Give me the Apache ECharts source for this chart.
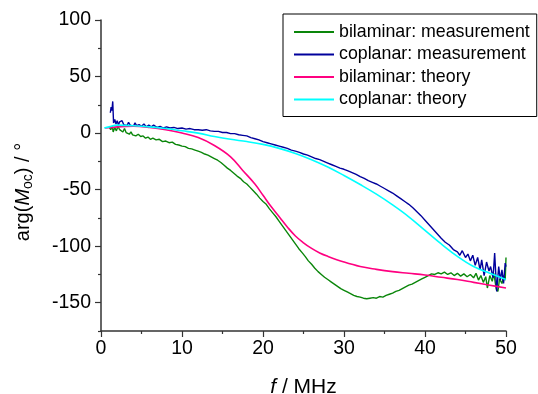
<!DOCTYPE html>
<html><head><meta charset="utf-8">
<script src="https://cdn.jsdelivr.net/npm/echarts@6/dist/echarts.min.js"></script>
<style>html,body{margin:0;padding:0;background:#fff}#c{width:538px;height:394px}</style>
</head><body><div id="c"></div>
<script>
// bilaminar: measurement
var fBiMeas = [1.0,1.2,1.4,1.5,1.7,1.9,2.1,2.3,2.5,2.7,2.9,3.1,3.3,3.5,3.7,3.9,4.1,4.3,4.6,4.9,5.2,5.5,5.8,6.1,6.4,6.8,7.2,7.6,8.0,8.4,8.8,9.2,9.6,10.0,10.4,10.8,11.2,11.6,12.0,12.4,12.8,13.2,13.6,14.0,14.4,14.8,15.2,15.6,16.0,16.4,16.8,17.2,17.6,18.0,18.4,18.8,19.2,19.6,20.0,20.4,20.8,21.2,21.6,22.0,22.4,22.8,23.2,23.6,24.0,24.4,24.8,25.2,25.6,26.0,26.4,26.8,27.2,27.6,28.0,28.4,28.8,29.2,29.6,30.0,30.4,30.8,31.2,31.6,32.0,32.4,32.8,33.2,33.6,34.0,34.4,34.8,35.2,35.6,36.0,36.4,36.8,37.2,37.6,38.0,38.4,38.8,39.2,39.6,40.0,40.4,40.8,41.2,41.6,42.0,42.4,42.8,43.2,43.6,44.0,44.4,44.8,45.2,45.6,46.0,46.3,46.6,46.9,47.2,47.5,47.7,48.0,48.3,48.5,48.8,49.0,49.2,49.5,49.7,49.9,50.0];
var vBiMeas = [5.5,3,6,1,5,2,6,3,4.5,1,4,0.5,2,-1,1,-1.5,0,-2.5,-1,-3,-2.5,-4.5,-3.5,-5.5,-4.5,-6,-5.5,-7.5,-7,-8.5,-8,-10,-10.5,-11.5,-12,-13.5,-14,-15,-16,-17,-18.5,-19.5,-21,-22.5,-24,-26,-28.5,-31,-33,-35.5,-38,-40,-43,-45,-48,-51,-54,-57.5,-60.5,-63,-67,-70.5,-74,-78,-82,-86,-90,-94,-98,-102,-105.5,-109,-113,-116,-119.5,-122.5,-125,-127.5,-129.5,-131.5,-133.5,-135.5,-137.5,-139,-140.5,-142,-143.5,-144.5,-145,-146,-146.5,-146,-145.5,-146,-144.5,-145,-143.5,-142.5,-141.5,-140,-139,-137.5,-136,-134.5,-133.5,-132,-130.5,-129,-127.5,-126,-124.5,-125,-123.5,-124.5,-123,-125,-123.5,-126,-124,-126.5,-124.5,-127,-125,-128,-124,-130,-126,-132,-127,-137,-126,-131,-124,-138,-140,-129,-133,-126,-130,-110];
// coplanar: measurement
var fCoMeas = [1.15,1.25,1.35,1.45,1.55,1.7,1.85,2.0,2.15,2.3,2.45,2.6,2.8,3.0,3.2,3.4,3.6,3.8,4.0,4.2,4.4,4.7,5.0,5.3,5.6,5.9,6.2,6.5,6.9,7.3,7.7,8.1,8.5,9.0,9.5,10.0,10.5,11.0,11.5,12.0,12.5,13.0,13.5,14.0,14.5,15.0,15.5,16.0,16.5,17.0,17.5,18.0,18.5,19.0,19.5,20.0,20.5,21.0,21.5,22.0,22.5,23.0,23.5,24.0,24.5,25.0,25.5,26.0,26.5,27.0,27.5,28.0,28.5,29.0,29.5,30.0,30.5,31.0,31.5,32.0,32.5,33.0,33.5,34.0,34.5,35.0,35.5,36.0,36.5,37.0,37.5,38.0,38.5,39.0,39.5,40.0,40.5,41.0,41.5,42.0,42.5,43.0,43.5,44.0,44.3,44.6,45.0,45.3,45.6,45.9,46.2,46.5,46.8,47.0,47.3,47.6,47.9,48.1,48.4,48.6,48.85,49.1,49.3,49.5,49.7,49.9,50.0];
var vCoMeas = [18,23,20,28,9,12,8,11,7,10,8.5,11,7.5,9,6.5,9.5,7,8,6,9,6.5,7.5,6,8,5.5,7,5.5,7,5,6,4.5,5.5,4.5,5,4,4.5,3.5,4,3,3,2.5,3,2,1.5,1.5,0.5,0.5,-0.5,-0.5,-1.5,-2,-2.5,-4,-5,-6,-7.5,-8.5,-9.5,-10.5,-11.5,-12.5,-13.5,-15,-16,-17,-18.5,-19.5,-21,-22.5,-23.5,-25,-26.5,-28,-29.5,-31,-32,-33.5,-35,-36.5,-38.5,-40,-42,-43.5,-45,-47,-49,-51,-53,-55.5,-58,-60.5,-63,-66,-69.5,-73,-77,-81,-85,-89,-93,-96.5,-99,-103,-105,-108,-104,-110,-107,-113,-108,-117,-110,-121,-112,-126,-114,-122,-118,-128,-106,-140,-118,-130,-121,-133,-115,-118];
// bilaminar: theory
var fBiTheo = [0.5,2,4,6,8,10,12,14,16,17.5,19,20,21,22,23,24,25,26,27,28,30,32,34,36,38,40,42,44,46,48,50];
var vBiTheo = [4.5,5.5,6,5,3,0,-4,-11,-21,-33,-45,-55,-65,-74,-83,-91,-97,-102,-106,-109,-114,-118,-120.5,-122.5,-124,-125.5,-127.5,-129.5,-132,-134.5,-137];
// coplanar: theory
var fCoTheo = [0.4,1,2,4,6,8,10,12,14,16,18,20,22,24,26,28,30,32,34,36,38,40,42,44,46,48,50];
var vCoTheo = [4.5,5.5,7,6.5,5.5,4,2,0,-3,-5.5,-7.5,-10,-13.5,-18,-23.5,-30,-37.5,-45.5,-54,-63.5,-74,-86,-98,-109,-118,-124,-129.5];

var xTicks = [0,10,20,30,40,50];
var yTicks = [-150,-100,-50,0,50,100];
var yMinorTicks = [-175,-125,-75,-25,25,75];

function pairs(f, v){ return f.map(function(x,i){ return [x, v[i]]; }); }

var font = 'Liberation Sans, Arial, sans-serif';
var chart = echarts.init(document.getElementById('c'));
var axisCol = '#333';
chart.setOption({
  animation: false,
  backgroundColor: '#fff',
  textStyle: { fontFamily: font },
  grid: { left: 101, right: 32, top: 20, bottom: 63, containLabel: false, outerBoundsMode: 'none' },
  legend: {
    orient: 'vertical', left: 283, top: 14,
    padding: [9, 7, 8, 11], itemGap: 4.5,
    itemWidth: 40, itemHeight: 2, icon: 'rect',
    borderColor: '#000', borderWidth: 1,
    textStyle: { fontSize: 17.8, color: '#000', fontFamily: font },
    data: ['bilaminar: measurement','coplanar: measurement','bilaminar: theory','coplanar: theory']
  },
  xAxis: {
    type: 'value', min: 0, max: 50, interval: 10,
    name: '{i|f} / MHz', nameLocation: 'middle', nameGap: 46,
    nameTextStyle: { fontSize: 21, color: '#000', fontFamily: font,
      rich: { i: { fontStyle: 'italic', fontSize: 21, color: '#000', fontFamily: font } } },
    axisLine: { show: true, onZero: false, lineStyle: { color: axisCol, width: 1.5 } },
    axisTick: { show: true, length: 6, lineStyle: { color: axisCol, width: 1.2 } },
    minorTick: { show: true, splitNumber: 2, length: 3, lineStyle: { color: axisCol, width: 1.2 } },
    axisLabel: { fontSize: 19.5, color: '#000', margin: 8, fontFamily: font, customValues: xTicks },
    splitLine: { show: false }
  },
  yAxis: [{
    type: 'value', min: -175, max: 100, interval: 25,
    name: 'arg({i|M}{s|oc}) / °', nameLocation: 'middle', nameGap: 66, nameRotate: 90,
    nameTextStyle: { fontSize: 20, color: '#000', fontFamily: font, lineHeight: 24, padding: [0, 33, 0, 0],
      rich: {
        i: { fontStyle: 'italic', fontSize: 20, color: '#000', fontFamily: font, lineHeight: 24 },
        s: { fontSize: 14, color: '#000', fontFamily: font, lineHeight: 10, verticalAlign: 'bottom' }
      } },
    axisLine: { show: true, onZero: false, lineStyle: { color: axisCol, width: 1.5 } },
    axisTick: { show: true, length: 6, lineStyle: { color: axisCol, width: 1.2 }, customValues: yTicks },
    axisLabel: { fontSize: 19.5, color: '#000', margin: 10, fontFamily: font, customValues: yTicks },
    splitLine: { show: false }
  }, {
    type: 'value', min: -175, max: 100, interval: 25, position: 'left',
    axisLine: { show: false },
    axisTick: { show: true, length: 3, lineStyle: { color: axisCol, width: 1.2 }, customValues: yMinorTicks },
    axisLabel: { show: false },
    splitLine: { show: false }
  }],
  series: [
    { name: 'bilaminar: measurement', type: 'line', showSymbol: false, symbol: 'none',
      data: pairs(fBiMeas, vBiMeas), lineStyle: { color: '#0a860a', width: 1.4 }, itemStyle: { color: '#0a860a' } },
    { name: 'coplanar: measurement', type: 'line', showSymbol: false, symbol: 'none',
      data: pairs(fCoMeas, vCoMeas), lineStyle: { color: '#00009c', width: 1.4 }, itemStyle: { color: '#00009c' } },
    { name: 'bilaminar: theory', type: 'line', showSymbol: false, symbol: 'none', smooth: 0.4,
      data: pairs(fBiTheo, vBiTheo), lineStyle: { color: '#ff0080', width: 1.6 }, itemStyle: { color: '#ff0080' } },
    { name: 'coplanar: theory', type: 'line', showSymbol: false, symbol: 'none', smooth: 0.4,
      data: pairs(fCoTheo, vCoTheo), lineStyle: { color: '#00ffff', width: 1.6 }, itemStyle: { color: '#00ffff' } }
  ]
});
</script></body></html>
